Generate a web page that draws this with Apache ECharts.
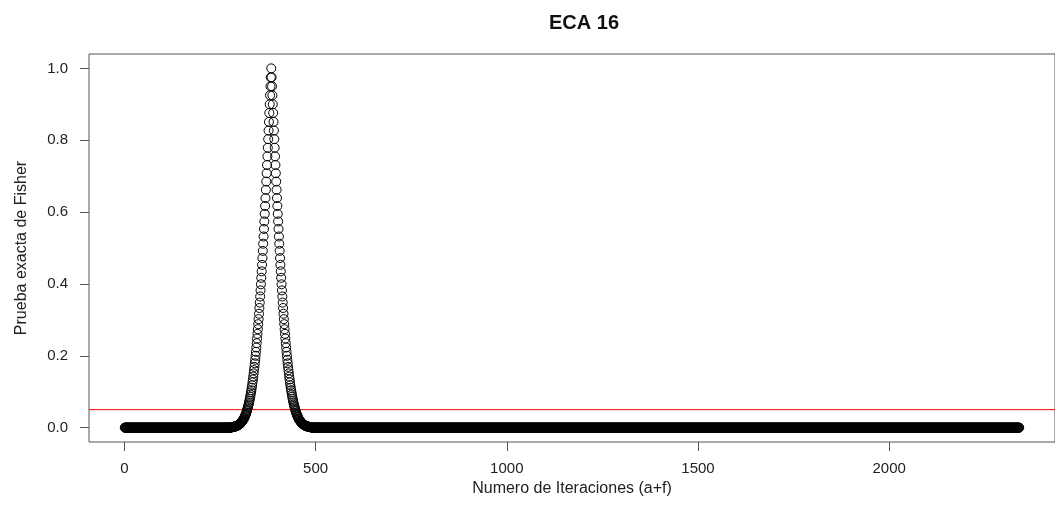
<!DOCTYPE html>
<html>
<head>
<meta charset="utf-8">
<script src="https://cdn.jsdelivr.net/npm/echarts@6/dist/echarts.min.js"></script>
<style>
  html, body { margin: 0; padding: 0; background: #fff; }
  #chart { width: 1055px; height: 514px; }
</style>
</head>
<body>
<div id="chart"></div>
<script>
// iterations run from 1 to 2340; outside the peak window the p-value reads as 0
const iterFirst = 1;
const iterLast = 2340;
const peakStart = 279;
// p-values, one per iteration starting at peakStart
const peakValues = [
  0.001,0.001,0.001,0.001,0.002,0.002,0.002,0.002,0.002,0.003,
  0.003,0.003,0.004,0.004,0.005,0.005,0.005,0.006,0.007,0.007,
  0.008,0.009,0.010,0.010,0.011,0.012,0.014,0.015,0.016,0.018,
  0.019,0.021,0.023,0.024,0.026,0.029,0.031,0.034,0.036,0.039,
  0.042,0.046,0.049,0.053,0.057,0.061,0.065,0.070,0.075,0.080,
  0.086,0.092,0.098,0.104,0.111,0.118,0.126,0.134,0.142,0.151,
  0.160,0.169,0.179,0.189,0.200,0.211,0.223,0.235,0.248,0.261,
  0.274,0.288,0.302,0.317,0.333,0.348,0.365,0.382,0.399,0.417,
  0.435,0.453,0.472,0.492,0.512,0.532,0.553,0.574,0.595,0.617,
  0.639,0.662,0.685,0.708,0.731,0.755,0.779,0.803,0.827,0.851,
  0.876,0.900,0.925,0.950,0.975,
  1.000,
  0.975,0.950,0.925,0.900,0.876,
  0.851,0.827,0.803,0.779,0.755,0.731,0.708,0.685,0.662,0.639,
  0.617,0.595,0.574,0.553,0.532,0.512,0.492,0.472,0.453,0.435,
  0.417,0.399,0.382,0.365,0.348,0.333,0.317,0.302,0.288,0.274,
  0.261,0.248,0.235,0.223,0.211,0.200,0.189,0.179,0.169,0.160,
  0.151,0.142,0.134,0.126,0.118,0.111,0.104,0.098,0.092,0.086,
  0.080,0.075,0.070,0.065,0.061,0.057,0.053,0.049,0.046,0.042,
  0.039,0.036,0.034,0.031,0.029,0.026,0.024,0.023,0.021,0.019,
  0.018,0.016,0.015,0.014,0.012,0.011,0.010,0.010,0.009,0.008,
  0.007,0.007,0.006,0.005,0.005,0.005,0.004,0.004,0.003,0.003,
  0.003,0.002,0.002,0.002,0.002,0.002,0.001,0.001,0.001,0.001
];
const threshold = 0.05;
const xTicks = [0, 500, 1000, 1500, 2000];
const yTicks = [0, 0.2, 0.4, 0.6, 0.8, 1.0];

const points = [];
for (let i = iterFirst; i <= iterLast; i++) {
  const k = i - peakStart;
  const v = (k >= 0 && k < peakValues.length) ? peakValues[k] : 0;
  points.push([i, v]);
}

// R-style 4% padding on both axes
const xPad = 0.04 * (iterLast - iterFirst);
const xMin = iterFirst - xPad;
const xMax = iterLast + xPad;
const font = 'Liberation Sans, Arial, Helvetica, sans-serif';

const option = {
  animation: false,
  title: {
    text: 'ECA 16',
    left: 579,
    top: 8,
    textAlign: 'center',
    textStyle: { fontFamily: font, fontSize: 20, fontWeight: 'bold', color: '#111' }
  },
  grid: {
    left: 89,
    top: 54,
    width: 978,
    height: 388,
    show: true,
    borderColor: '#555',
    borderWidth: 1
  },
  xAxis: {
    type: 'value',
    min: xMin,
    max: xMax,
    name: 'Numero de Iteraciones (a+f)',
    nameLocation: 'middle',
    nameGap: 38,
    nameTextStyle: { fontFamily: font, fontSize: 16, color: '#222' },
    axisLine: { show: false, onZero: false },
    axisTick: { show: true, length: 9, customValues: xTicks, lineStyle: { color: '#555' } },
    axisLabel: {
      customValues: xTicks,
      margin: 19,
      fontFamily: font,
      fontSize: 15,
      color: '#222',
      formatter: v => String(v)
    },
    splitLine: { show: false }
  },
  yAxis: {
    type: 'value',
    min: -0.04,
    max: 1.04,
    name: 'Prueba exacta de Fisher',
    nameLocation: 'middle',
    nameGap: 59,
    nameTextStyle: { fontFamily: font, fontSize: 16, color: '#222' },
    axisLine: { show: false, onZero: false },
    axisTick: { show: true, length: 9, customValues: yTicks, lineStyle: { color: '#555' } },
    axisLabel: {
      customValues: yTicks,
      margin: 21,
      fontFamily: font,
      fontSize: 15,
      color: '#222',
      formatter: v => v.toFixed(1)
    },
    splitLine: { show: false }
  },
  series: [
    {
      // threshold line, like abline(h = 0.05, col = "red")
      type: 'line',
      data: [[xMin, threshold], [xMax, threshold]],
      showSymbol: false,
      symbol: 'none',
      color: '#ff0000',
      lineStyle: { color: '#ff0000', width: 1, opacity: 1 },
      emphasis: { disabled: true },
      silent: true,
      z: 1
    },
    {
      type: 'scatter',
      data: points,
      symbol: 'circle',
      symbolSize: 9,
      large: false,
      progressive: 0,
      itemStyle: { color: 'rgba(0,0,0,0)', borderColor: '#000', borderWidth: 1, opacity: 1 },
      emphasis: { disabled: true },
      z: 2
    }
  ]
};

const chart = echarts.init(document.getElementById('chart'));
chart.setOption(option);
</script>
</body>
</html>
